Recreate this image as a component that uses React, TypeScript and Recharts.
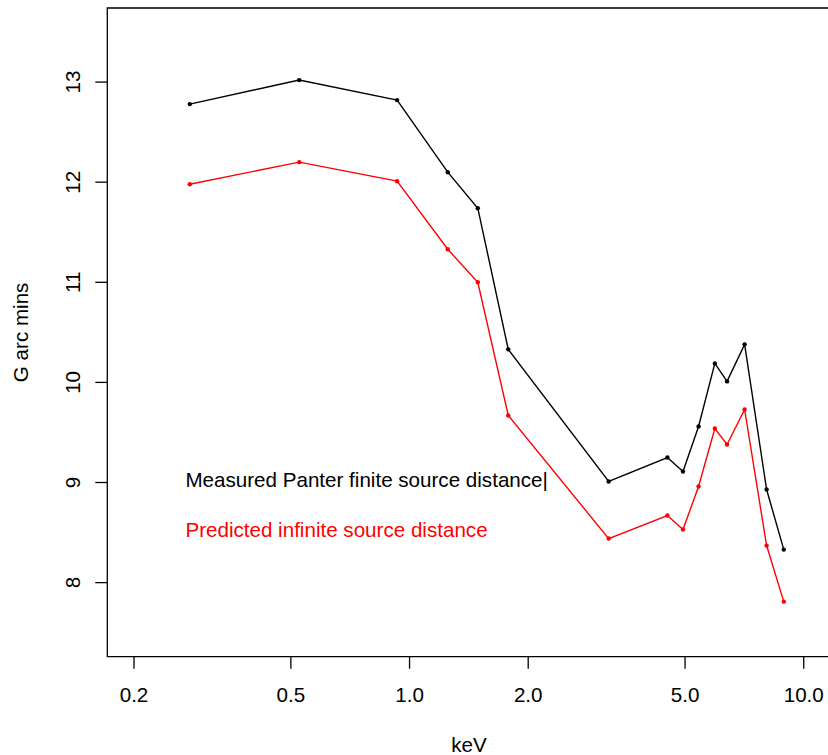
import React from "react";
import {
  LineChart,
  Line,
  XAxis,
  YAxis,
  ReferenceArea,
  ReferenceDot,
} from "recharts";

// energies (keV)
const energies = [
  0.277, 0.525, 0.93, 1.25, 1.49, 1.78, 3.2, 4.51, 4.94, 5.41, 5.95, 6.39,
  7.08, 8.05, 8.9,
];
// measured at Panter (finite source distance)
const measured = [
  12.78, 13.02, 12.82, 12.1, 11.74, 10.33, 9.01, 9.25, 9.11, 9.56, 10.19,
  10.01, 10.38, 8.93, 8.33,
];
// predicted for an infinite source distance
const predicted = [
  11.98, 12.2, 12.01, 11.33, 11.0, 9.67, 8.44, 8.67, 8.53, 8.96, 9.54, 9.38,
  9.73, 8.37, 7.81,
];

const xTicks = [0.2, 0.5, 1, 2, 5, 10];
const yTicks = [8, 9, 10, 11, 12, 13];

// R style: limits padded by 4% (log for x)
const xDomain: [number, number] = [0.1711, 11.6925];
const yDomain: [number, number] = [7.26, 13.74];

const FONT = "'Liberation Sans', Arial, sans-serif";
const FS = 20.6;

const data = energies.map((kev, i) => ({
  kev,
  measured: measured[i],
  predicted: predicted[i],
}));

const YTick = ({ y, payload }: any) => (
  <text
    x={80}
    y={y}
    transform={`rotate(-90, 80, ${y})`}
    textAnchor="middle"
    fontSize={FS}
    fontFamily={FONT}
    fill="#000"
  >
    {payload.value}
  </text>
);

const YLabel = ({ viewBox }: any) => {
  const cy = viewBox.y + viewBox.height / 2;
  return (
    <text
      x={28}
      y={cy}
      transform={`rotate(-90, 28, ${cy})`}
      textAnchor="middle"
      fontSize={FS}
      fontFamily={FONT}
      fill="#000"
    >
      G arc mins
    </text>
  );
};

const note = (text: string, color: string) => ({ viewBox }: any) => (
  <text
    x={viewBox.x}
    y={viewBox.y + 4.6}
    fontSize={FS}
    fontFamily={FONT}
    fill={color}
  >
    {text}
  </text>
);

export default function App() {
  return (
    <div
      style={{
        position: "absolute",
        left: 0,
        top: 0,
        width: 828,
        height: 755,
        overflow: "hidden",
        background: "#fff",
      }}
    >
      <LineChart
        width={832}
        height={755}
        data={data}
        margin={{ top: 8, right: 1.5, left: 0, bottom: 0 }}
      >
        <XAxis
          dataKey="kev"
          type="number"
          scale="log"
          domain={xDomain}
          allowDataOverflow
          ticks={xTicks}
          tickFormatter={(v: number) => v.toFixed(1)}
          axisLine={false}
          tickLine={{ stroke: "#000", strokeWidth: 1.3 }}
          tickSize={12}
          tickMargin={19}
          height={98.3}
          tick={{ fontSize: FS, fontFamily: FONT, fill: "#000" }}
          interval={0}
          label={{
            value: "keV",
            position: "insideBottom",
            offset: 3,
            fontSize: FS,
            fontFamily: FONT,
            fill: "#000",
          }}
        />
        <YAxis
          type="number"
          domain={yDomain}
          allowDataOverflow
          ticks={yTicks}
          axisLine={false}
          tickLine={{ stroke: "#000", strokeWidth: 1.3 }}
          tickSize={12}
          width={107.3}
          tick={<YTick />}
          interval={0}
          label={<YLabel />}
        />
        <ReferenceArea
          x1={xDomain[0]}
          x2={xDomain[1]}
          y1={yDomain[0]}
          y2={yDomain[1]}
          fill="none"
          stroke="#000"
          strokeWidth={1.3}
          ifOverflow="visible"
        />
        <Line
          dataKey="measured"
          stroke="#000"
          strokeWidth={1.4}
          dot={{ r: 2.2, fill: "#000", stroke: "none" }}
          isAnimationActive={false}
        />
        <Line
          dataKey="predicted"
          stroke="#ff0000"
          strokeWidth={1.4}
          dot={{ r: 2.2, fill: "#ff0000", stroke: "none" }}
          isAnimationActive={false}
        />
        <ReferenceDot
          x={0.27}
          y={9}
          r={0}
          ifOverflow="visible"
          label={note("Measured Panter finite source distance|", "#000")}
        />
        <ReferenceDot
          x={0.27}
          y={8.5}
          r={0}
          ifOverflow="visible"
          label={note("Predicted infinite source distance", "#ff0000")}
        />
      </LineChart>
    </div>
  );
}
